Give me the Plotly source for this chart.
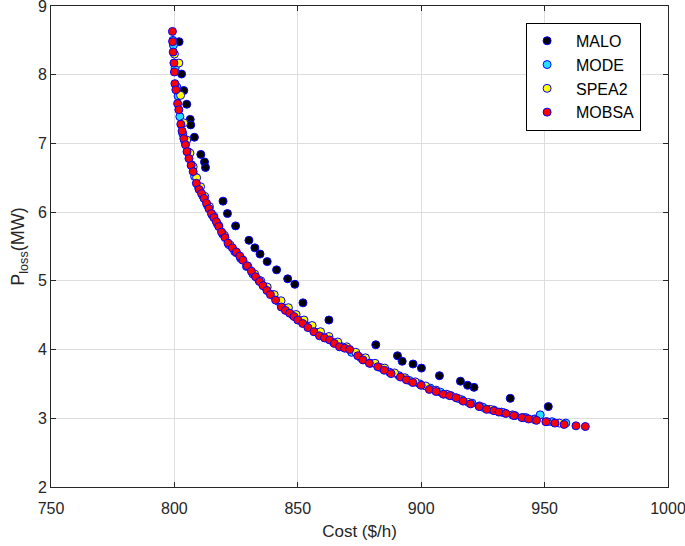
import plotly.graph_objects as go

# ---------------- data ----------------
malo_cost = [801.9, 802.9, 803.8, 805.0, 806.4, 806.6, 808.1, 810.7, 812.2, 812.6,
             819.7, 821.5, 824.8, 830.2, 832.6, 834.7, 837.6, 841.4, 845.9, 848.8,
             852.1, 862.6, 881.6, 890.4, 892.3, 896.7, 900.1, 907.4, 915.9, 918.8,
             921.4, 936.1, 951.5]
malo_ploss = [8.48, 8.01, 7.77, 7.57, 7.35, 7.27, 7.09, 6.84, 6.73, 6.65,
              6.16, 5.98, 5.80, 5.59, 5.48, 5.39, 5.28, 5.16, 5.03, 4.95,
              4.68, 4.43, 4.07, 3.91, 3.83, 3.79, 3.73, 3.62, 3.54, 3.48,
              3.45, 3.29, 3.17]

mode_cost = [799.4, 799.6, 800.3, 801.0, 801.5, 802.2, 803.4, 804.2, 805.5, 806.9,
             808.2, 809.8, 811.5, 813.4, 815.3, 817.4, 819.6, 822.0, 824.4, 826.8,
             829.2, 831.8, 834.2, 836.9, 839.6, 842.2, 845.1, 848.0, 851.2, 854.5,
             857.8, 861.2, 864.6, 868.0, 871.8, 875.6, 879.5, 883.4, 887.2, 891.0,
             895.2, 899.4, 903.6, 907.8, 912.0, 916.4, 920.6, 925.0, 929.4, 933.6,
             938.0, 942.4, 946.0, 948.2, 953.0, 958.6]
mode_ploss = [8.50, 8.43, 8.10, 7.82, 7.69, 7.39, 7.14, 7.03, 6.88, 6.69,
              6.52, 6.36, 6.24, 6.10, 5.96, 5.83, 5.68, 5.53, 5.43, 5.33,
              5.21, 5.10, 5.01, 4.91, 4.80, 4.70, 4.60, 4.50, 4.42, 4.34,
              4.25, 4.17, 4.10, 4.04, 3.96, 3.88, 3.80, 3.74, 3.67, 3.62,
              3.55, 3.50, 3.44, 3.38, 3.33, 3.27, 3.22, 3.16, 3.12, 3.08,
              3.04, 3.01, 2.99, 3.05, 2.95, 2.93]

spea2_cost = [800.0, 801.8, 802.5, 803.8, 805.0, 806.3, 807.6, 809.0, 810.6, 812.3,
              814.2, 816.0, 818.0, 820.3, 822.6, 825.0, 827.4, 829.8, 832.5, 835.0,
              837.6, 840.4, 843.2, 846.2, 849.3, 852.5, 855.8, 859.2, 862.6, 866.2,
              869.8, 873.5, 877.4, 881.3, 885.2, 889.2, 893.4, 897.6, 901.8, 906.0,
              910.4, 914.8, 919.2, 923.6, 928.0, 932.5, 937.0, 941.5, 946.0, 951.0,
              956.0]
spea2_ploss = [8.30, 8.17, 7.70, 7.30, 7.05, 6.86, 6.66, 6.50, 6.37, 6.23,
               6.08, 5.94, 5.80, 5.66, 5.52, 5.41, 5.31, 5.21, 5.10, 5.00,
               4.91, 4.80, 4.71, 4.61, 4.51, 4.43, 4.35, 4.26, 4.19, 4.11,
               4.04, 3.96, 3.88, 3.80, 3.73, 3.66, 3.59, 3.53, 3.47, 3.41,
               3.35, 3.29, 3.23, 3.18, 3.13, 3.09, 3.05, 3.01, 2.98, 2.95,
               2.93]

mobsa_cost = [799.2, 799.3, 799.5, 799.8, 800.0, 800.2, 800.6, 801.3, 801.8, 802.6,
              803.1, 803.8, 804.5, 805.1, 805.9, 806.8, 807.6, 808.9, 810.0, 811.0,
              812.0, 813.0, 814.0, 815.0, 816.0, 817.0, 818.0, 819.1, 820.5, 821.7,
              823.5, 825.1, 826.5, 827.8, 829.5, 831.2, 832.9, 834.5, 835.9, 837.5,
              838.9, 841.0, 843.3, 845.0, 846.7, 848.5, 850.0, 852.0, 854.1, 856.5,
              858.8, 860.8, 862.9, 864.8, 866.9, 869.0, 871.0, 874.3, 876.4, 879.0,
              882.4, 885.0, 887.8, 891.6, 894.0, 896.6, 900.0, 903.3, 906.0, 909.0,
              911.5, 914.1, 917.0, 920.0, 923.5, 926.5, 929.5, 931.5, 934.3, 937.5,
              940.8, 943.5, 946.7, 950.5, 954.2, 957.9, 962.7, 966.5]
mobsa_ploss = [8.63, 8.48, 8.33, 8.17, 8.04, 7.87, 7.78, 7.58, 7.49, 7.28,
               7.18, 7.07, 6.98, 6.88, 6.78, 6.68, 6.59, 6.42, 6.33, 6.27,
               6.20, 6.13, 6.05, 5.98, 5.92, 5.86, 5.79, 5.71, 5.63, 5.55,
               5.48, 5.42, 5.36, 5.30, 5.22, 5.14, 5.06, 4.99, 4.93, 4.86,
               4.80, 4.72, 4.62, 4.57, 4.53, 4.48, 4.43, 4.38, 4.32, 4.26,
               4.20, 4.17, 4.14, 4.09, 4.04, 4.02, 4.00, 3.91, 3.85, 3.80,
               3.75, 3.70, 3.65, 3.60, 3.56, 3.52, 3.48, 3.42, 3.39, 3.35,
               3.33, 3.30, 3.25, 3.21, 3.17, 3.13, 3.11, 3.09, 3.07, 3.04,
               3.01, 2.99, 2.97, 2.95, 2.93, 2.91, 2.89, 2.88]

x_ticks = [750, 800, 850, 900, 950, 1000]
y_ticks = [2, 3, 4, 5, 6, 7, 8, 9]

# ---------------- figure ----------------
FONT = "Liberation Sans, Arial, sans-serif"
NB = "\u00a0\u00a0"
series = [
    ("MALO", malo_cost, malo_ploss, "#000000"),
    ("MODE", mode_cost, mode_ploss, "#22e0ff"),
    ("SPEA2", spea2_cost, spea2_ploss, "#ffff00"),
    ("MOBSA", mobsa_cost, mobsa_ploss, "#ff0000"),
]

fig = go.Figure()
for name, xs, ys, col in series:
    fig.add_trace(go.Scatter(
        x=xs, y=ys, mode="markers", name=NB + name,
        marker=dict(size=8, color=col, line=dict(color="#0000ff", width=1)),
    ))

axis_common = dict(
    showline=True, linecolor="#262626", linewidth=1, mirror="ticks",
    ticks="inside", ticklen=5, tickcolor="#262626",
    showgrid=True, gridcolor="#dedede", gridwidth=1,
    zeroline=False, automargin=False, ticklabeloverflow="allow",
    tickfont=dict(family=FONT, size=16, color="#262626"),
)

fig.update_xaxes(range=[750, 1000], tickvals=x_ticks, ticklabelstandoff=7,
                 title=dict(text="Cost ($/h)", font=dict(family=FONT, size=17, color="#262626"), standoff=8),
                 **axis_common)
fig.update_yaxes(range=[2, 9], tickvals=y_ticks,
                 title=dict(text="P<sub>loss</sub>(MW)", font=dict(family=FONT, size=18, color="#262626"), standoff=8),
                 **axis_common)

fig.update_layout(
    width=685, height=546,
    margin=dict(l=51, r=17, t=6, b=59),
    paper_bgcolor="white", plot_bgcolor="white",
    font=dict(family=FONT, color="#000000"),
    showlegend=True,
    legend=dict(x=0.77, y=0.965, xanchor="left", yanchor="top",
                bgcolor="white", bordercolor="#000000", borderwidth=1,
                font=dict(family=FONT, size=16, color="#000000"),
                entrywidth=114, entrywidthmode="pixels"),
)

fig.write_html("out.html", config={"displayModeBar": False},
               post_script="document.body.style.margin='0';document.body.style.overflow='hidden';")
